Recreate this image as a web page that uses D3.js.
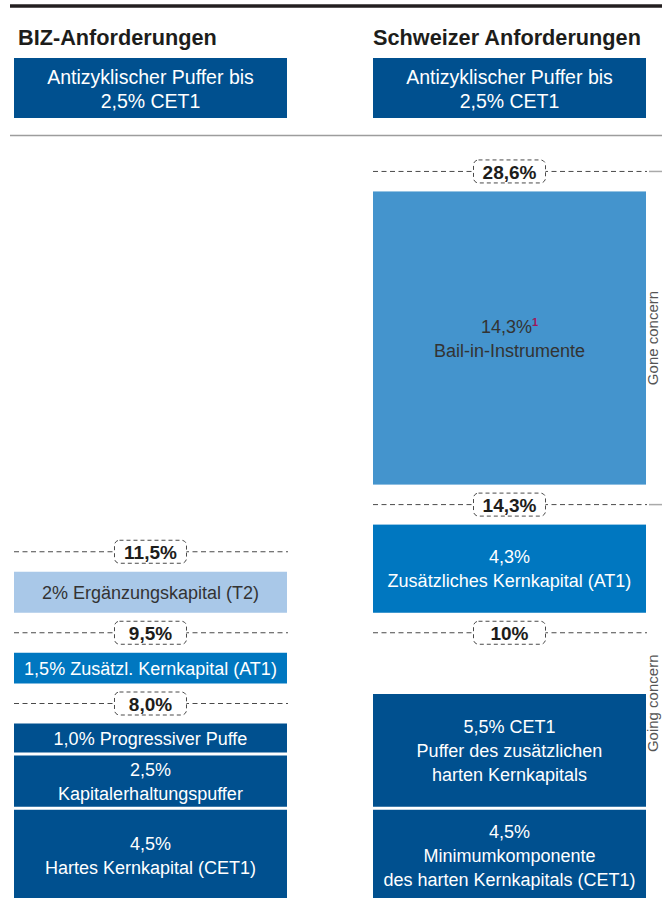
<!DOCTYPE html>
<meta charset="utf-8">
<style>
body { margin: 0; background: #fff; }
svg { display: block; font-family: "Liberation Sans", Arial, sans-serif; }
.title { font-weight: bold; font-size: 21.7px; fill: #1d1d1b; }
.seg text { font-size: 18px; }
.marker text { font-size: 19px; font-weight: bold; fill: #1d1d1b; }
.concern { font-size: 15px; fill: #555; }
</style>
<svg width="662" height="898"></svg>
<script src="https://d3js.org/d3.v7.min.js"></script>
<script>

// columns and headers
var columns = ["BIZ", "CH"];
var titles = ["BIZ-Anforderungen", "Schweizer Anforderungen"];
var headerLines = ["Antizyklischer Puffer bis", "2,5% CET1"];

// BIZ requirements, bottom to top (% of RWA)
var bizValues = [4.5, 2.5, 1.0, 1.5, 2.0];
var bizTypes = ["CET1", "CET1", "CET1", "AT1", "T2"];
var bizLabels = [
  ["4,5%", "Hartes Kernkapital (CET1)"],
  ["2,5%", "Kapitalerhaltungspuffer"],
  ["1,0% Progressiver Puffe"],
  ["1,5% Zusätzl. Kernkapital (AT1)"],
  ["2% Ergänzungskapital (T2)"]
];
var bizMarkerAfter = [2, 3, 4];
var bizMarkerLabels = ["8,0%", "9,5%", "11,5%"];

// Swiss requirements, bottom to top
var chValues = [4.5, 5.5, 4.3, 14.3];
var chTypes = ["CET1", "CET1", "AT1", "Bail-in"];
var chLabels = [
  ["4,5%", "Minimumkomponente", "des harten Kernkapitals (CET1)"],
  ["5,5% CET1", "Puffer des zusätzlichen", "harten Kernkapitals"],
  ["4,3%", "Zusätzliches Kernkapital (AT1)"],
  ["14,3%", "Bail-in-Instrumente"]
];
var chMarkerAfter = [1, 2, 3];
var chMarkerLabels = ["10%", "14,3%", "28,6%"];

var concernLabels = ["Going concern", "Gone concern"];

var svg = d3.select("svg"),
    width = +svg.attr("width"),
    height = +svg.attr("height");

var x = d3.scaleBand().domain(columns).range([14, 646]).paddingInner(0.2396).paddingOuter(0);
var h = d3.scaleLinear().domain([0, 1]).range([0, 20.5]);

var color = d3.scaleOrdinal()
    .domain(["CET1", "AT1", "T2", "Bail-in"])
    .range(["#00508f", "#0077c0", "#a9c8e8", "#4494cd"]);
var textColor = d3.scaleOrdinal()
    .domain(["CET1", "AT1", "T2", "Bail-in"])
    .range(["#fff", "#fff", "#333", "#333"]);

var bottom = 902, barGap = 3, markerGap = 20, minBar = 29;

function stack(values, markerAfter, alignTo) {
  var y = bottom, bars = [], marks = [];
  values.forEach(function(v, i) {
    if (i > 0) {
      var m = markerAfter.indexOf(i - 1);
      if (m >= 0) {
        var my = y - markerGap;
        if (alignTo && alignTo[m] != null) my = Math.min(my, alignTo[m]);
        marks.push(my);
        y = my - markerGap;
      } else {
        y -= barGap;
      }
    }
    var bh = Math.max(h(v), minBar);
    bars.push({top: y - bh, bottom: y});
    y -= bh;
  });
  if (markerAfter.indexOf(values.length - 1) >= 0) marks.push(y - markerGap);
  return {bars: bars, marks: marks};
}

var bizLayout = stack(bizValues, bizMarkerAfter);
// the Swiss 10% line is drawn level with the BIZ 9,5% line
var chLayout = stack(chValues, chMarkerAfter, [bizLayout.marks[1], null, null]);

// top rules
svg.append("line").attr("x1", 10).attr("x2", width).attr("y1", 6).attr("y2", 6)
    .attr("stroke", "#231f20").attr("stroke-width", 3.5);
svg.append("line").attr("x1", 10).attr("x2", width).attr("y1", 135.5).attr("y2", 135.5)
    .attr("stroke", "#9d9d9d").attr("stroke-width", 1.5);

svg.selectAll(".title").data(titles).enter().append("text")
    .attr("class", "title")
    .attr("x", function(d, i) { return x(columns[i]) + (i == 0 ? 4 : 0); })
    .attr("y", 45)
    .text(function(d) { return d; });

var head = svg.selectAll(".head").data(columns).enter().append("g").attr("class", "head");
head.append("rect")
    .attr("x", function(d) { return x(d); })
    .attr("y", 58).attr("width", x.bandwidth()).attr("height", 60)
    .attr("fill", color("CET1"));
head.each(function(d) {
  var g = d3.select(this);
  headerLines.forEach(function(t, j) {
    g.append("text").attr("x", x(d) + x.bandwidth() / 2).attr("y", 84 + j * 24)
      .attr("text-anchor", "middle").attr("fill", "#fff").style("font-size", "19.5px")
      .text(t);
  });
});

function drawColumn(col, values, types, labels, layout, markLabels) {
  var x0 = x(col), bw = x.bandwidth(), cx = x0 + bw / 2;
  var seg = svg.append("g").selectAll("g").data(values).enter().append("g").attr("class", "seg");
  seg.append("rect")
      .attr("x", x0).attr("width", bw)
      .attr("y", function(d, i) { return layout.bars[i].top; })
      .attr("height", function(d, i) { return layout.bars[i].bottom - layout.bars[i].top; })
      .attr("fill", function(d, i) { return color(types[i]); });
  seg.each(function(d, i) {
    var b = layout.bars[i], lines = labels[i], mid = (b.top + b.bottom) / 2;
    lines.forEach(function(t, j) {
      var tx = d3.select(this).append("text")
          .attr("x", cx)
          .attr("y", mid + (j - (lines.length - 1) / 2) * 24 + 6.5)
          .attr("text-anchor", "middle")
          .attr("fill", textColor(types[i]));
      tx.append("tspan").text(t);
      if (types[i] == "Bail-in" && j == 0) {
        tx.append("tspan").attr("dy", -7).attr("fill", "#a0145a")
            .style("font-size", "11px").style("font-weight", "bold").text("1");
      }
    }, this);
  });

  var mk = svg.append("g").selectAll("g").data(markLabels).enter().append("g").attr("class", "marker")
      .attr("transform", function(d, i) { return "translate(0," + layout.marks[i] + ")"; });
  mk.append("line").attr("x1", x0).attr("x2", x0 + bw + 1)
      .attr("stroke", "#4a4a4a").attr("stroke-dasharray", "5,3.5");
  mk.append("rect").attr("x", cx - 36).attr("y", -11.5).attr("width", 72).attr("height", 23)
      .attr("rx", 5).attr("fill", "#fff")
      .attr("stroke", "#4a4a4a").attr("stroke-dasharray", "4,3");
  mk.append("text").attr("x", cx).attr("y", 7.5).attr("text-anchor", "middle")
      .text(function(d) { return d; });
}

drawColumn("BIZ", bizValues, bizTypes, bizLabels, bizLayout, bizMarkerLabels);
drawColumn("CH", chValues, chTypes, chLabels, chLayout, chMarkerLabels);

// going / gone concern brackets at the right edge
var bx = 663;
var spans = [[bottom, chLayout.marks[1]], [chLayout.marks[1], chLayout.marks[2]]];
var br = svg.append("g").selectAll("g").data(concernLabels).enter().append("g");
br.append("line").attr("x1", bx).attr("x2", bx)
    .attr("y1", function(d, i) { return spans[i][0]; })
    .attr("y2", function(d, i) { return spans[i][1]; })
    .attr("stroke", "#aaa").attr("stroke-width", 1.5);
br.append("line").attr("x1", 649).attr("x2", bx)
    .attr("y1", function(d, i) { return spans[i][1]; })
    .attr("y2", function(d, i) { return spans[i][1]; })
    .attr("stroke", "#aaa").attr("stroke-width", 1.5);
br.append("text").attr("class", "concern")
    .attr("text-anchor", "middle")
    .attr("transform", function(d, i) {
      return "translate(658," + (spans[i][0] + spans[i][1]) / 2 + ") rotate(-90)";
    })
    .text(function(d) { return d; });

</script>
